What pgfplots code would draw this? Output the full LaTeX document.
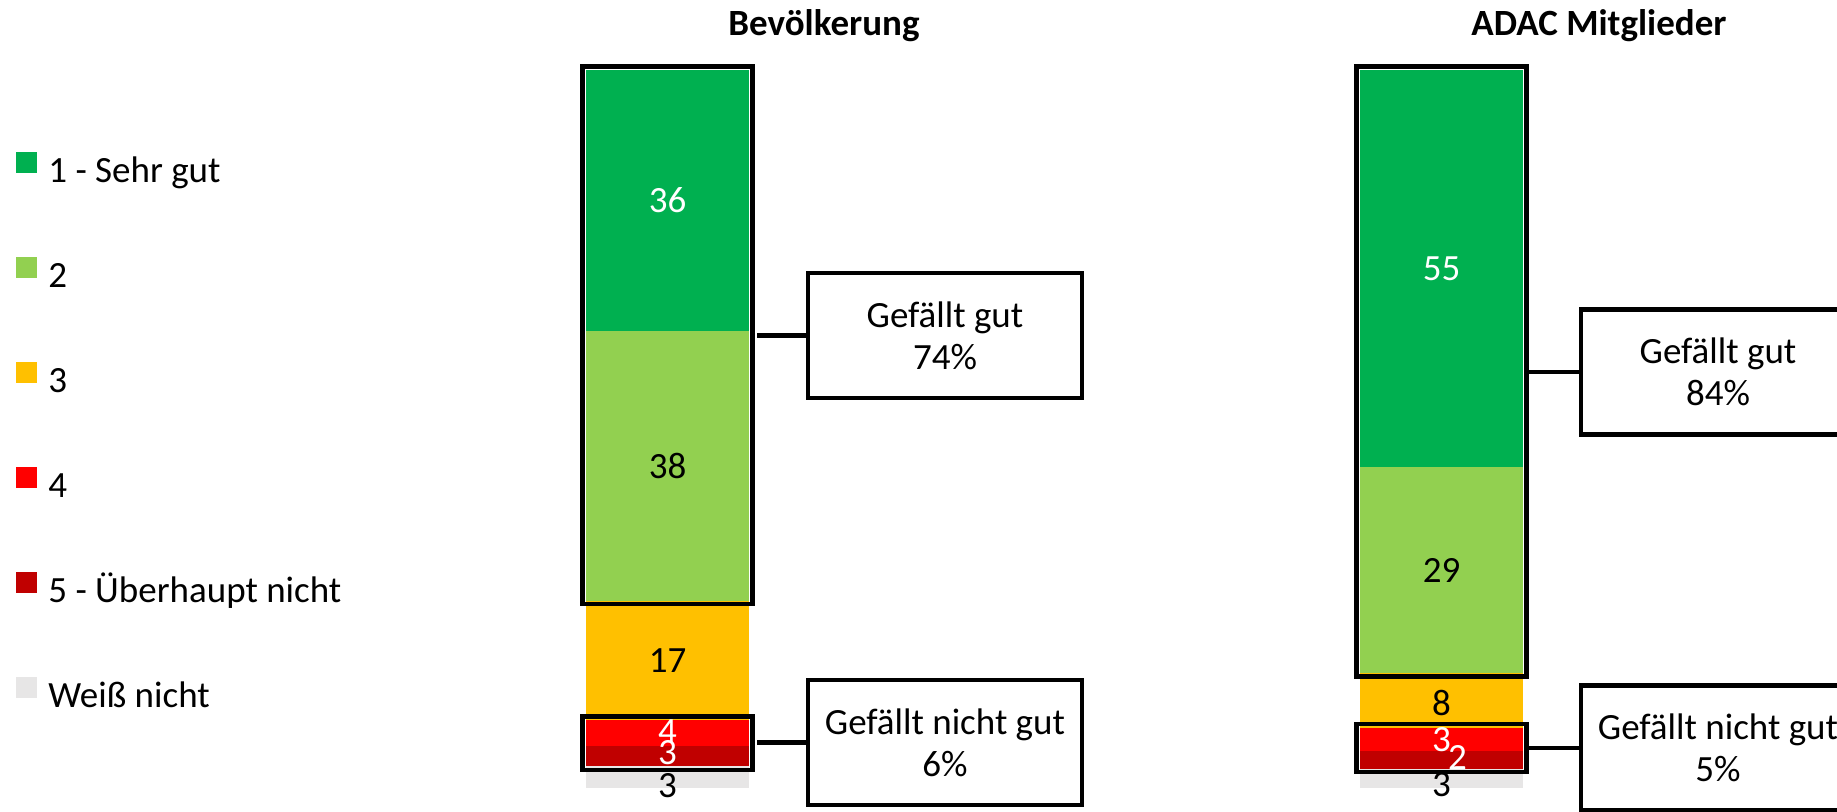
\documentclass[border=0pt]{standalone}
\usepackage{fontspec}
\setmainfont{Carlito}
\usepackage{pgfplots}
\pgfplotsset{compat=1.18}

\definecolor{sehrgut}{HTML}{00B050}
\definecolor{zwei}{HTML}{92D050}
\definecolor{drei}{HTML}{FFC000}
\definecolor{vier}{HTML}{FF0000}
\definecolor{fuenf}{HTML}{C00000}
\definecolor{weissn}{HTML}{E7E6E6}

\newcommand\lf{\fontsize{18.5}{21}\selectfont}

\pgfplotsset{
  barax/.style={
    hide axis, scale only axis, clip=false,
    width=81.5pt, height=359pt,
    xmin=-0.5, xmax=0.5, ymin=0, ymax=100,
    ybar stacked, bar width=81.5pt,
    anchor=south west,
  },
}
\tikzset{frame/.style={line width=2.2pt}}

\begin{document}
\begin{tikzpicture}
\useasboundingbox (0,0) rectangle (918.5pt,-405.5pt);

% Bevoelkerung
\begin{axis}[barax, at={(293pt,-394pt)},
  reverse legend,
  legend image code/.code={\fill[#1,draw=none] (0pt,0pt) rectangle (10.5pt,10.5pt);},
  legend style={at={(axis description cs:-3.497,0.887)}, anchor=north west,
    draw=none, fill=none, inner sep=0pt, font=\lf, column sep=5.5pt, row sep=33pt,
    nodes={inner sep=0pt, text height=14pt, text depth=4pt},
    cells={anchor=west}},
]
\addplot[fill=weissn, draw=none] coordinates {(0,3.0)}; \addlegendentry{Weiß nicht}
\addplot[fill=fuenf, draw=none] coordinates {(0,2.8)}; \addlegendentry{5 - Überhaupt nicht}
\addplot[fill=vier, draw=none] coordinates {(0,3.7)}; \addlegendentry{4}
\addplot[fill=drei, draw=none] coordinates {(0,16.6)}; \addlegendentry{3}
\addplot[fill=zwei, draw=none] coordinates {(0,37.6)}; \addlegendentry{2}
\addplot[fill=sehrgut, draw=none] coordinates {(0,36.3)}; \addlegendentry{1 - Sehr gut}

\coordinate (f1a) at ([shift={(-1.75pt,-1.75pt)}]axis cs:-0.5,26.1);
\coordinate (f1b) at ([shift={(1.75pt,1.75pt)}]axis cs:0.5,100);
\coordinate (f2a) at ([shift={(-1.75pt,-1.75pt)}]axis cs:-0.5,3.0);
\coordinate (f2b) at ([shift={(1.75pt,1.75pt)}]axis cs:0.5,9.5);
\coordinate (a1) at (axis cs:0,81.85);
\coordinate (a2) at (axis cs:0,44.9);
\coordinate (a3) at (axis cs:0,17.8);
\coordinate (a4) at (axis cs:0,7.9);
\coordinate (a5) at (axis cs:0,4.9);
\coordinate (a6) at (axis cs:0,0.35);
\end{axis}

% ADAC Mitglieder
\begin{axis}[barax, at={(680pt,-394pt)}]
\addplot[fill=weissn, draw=none] coordinates {(0,2.7)};
\addplot[fill=fuenf, draw=none] coordinates {(0,2.4)};
\addplot[fill=vier, draw=none] coordinates {(0,3.3)};
\addplot[fill=drei, draw=none] coordinates {(0,7.6)};
\addplot[fill=zwei, draw=none] coordinates {(0,28.7)};
\addplot[fill=sehrgut, draw=none] coordinates {(0,55.3)};

\coordinate (g1a) at ([shift={(-1.75pt,-1.75pt)}]axis cs:-0.5,16.0);
\coordinate (g1b) at ([shift={(1.75pt,1.75pt)}]axis cs:0.5,100);
\coordinate (g2a) at ([shift={(-1.75pt,-1.75pt)}]axis cs:-0.5,2.7);
\coordinate (g2b) at ([shift={(1.75pt,1.75pt)}]axis cs:0.5,8.4);
\coordinate (b1) at (axis cs:0,72.35);
\coordinate (b2) at (axis cs:0,30.35);
\coordinate (b3) at (axis cs:0,11.9);
\coordinate (b4) at (axis cs:0,6.7);
\coordinate (b5) at (axis cs:0,4.3);
\coordinate (b6) at (axis cs:0,0.45);
\end{axis}

% frames and segment labels
\draw[frame] (f1a) rectangle (f1b);
\draw[frame] (f2a) rectangle (f2b);
\draw[frame] (g1a) rectangle (g1b);
\draw[frame] (g2a) rectangle (g2b);

\node[font=\lf, text=white] at (a1) {36};
\node[font=\lf] at (a2) {38};
\node[font=\lf] at (a3) {17};
\node[font=\lf, text=white] at (a4) {4};
\node[font=\lf, text=white] at (a5) {3};
\node[font=\lf] at (a6) {3};

\node[font=\lf, text=white] at (b1) {55};
\node[font=\lf] at (b2) {29};
\node[font=\lf] at (b3) {8};
\node[font=\lf, text=white] at (b4) {3};
\node[font=\lf, text=white, xshift=8pt] at (b5) {2};
\node[font=\lf] at (b6) {3};

\begin{scope}[x=0.5pt, y=-0.5pt]
  \node[anchor=base, font=\lf\bfseries] at (824,35) {Bevölkerung};
  \node[anchor=base, font=\lf\bfseries] at (1599,35) {ADAC Mitglieder};

  \draw[frame] (757,335.5) -- (808,335.5);
  \draw[frame] (808,273) rectangle (1082,398);
  \node[align=center, font=\lf] at (945,335.5) {Gefällt gut\\74\%};

  \draw[frame] (757,742.5) -- (808,742.5);
  \draw[frame] (808,680) rectangle (1082,805);
  \node[align=center, font=\lf] at (945,742.5) {Gefällt nicht gut\\6\%};

  \draw[frame] (1529,372) -- (1581,372);
  \draw[frame] (1581,309.5) rectangle (1855,434.5);
  \node[align=center, font=\lf] at (1718,372) {Gefällt gut\\84\%};

  \draw[frame] (1529,748) -- (1581,748);
  \draw[frame] (1581,685.5) rectangle (1855,810.5);
  \node[align=center, font=\lf] at (1718,748) {Gefällt nicht gut\\5\%};
\end{scope}
\end{tikzpicture}
\end{document}
